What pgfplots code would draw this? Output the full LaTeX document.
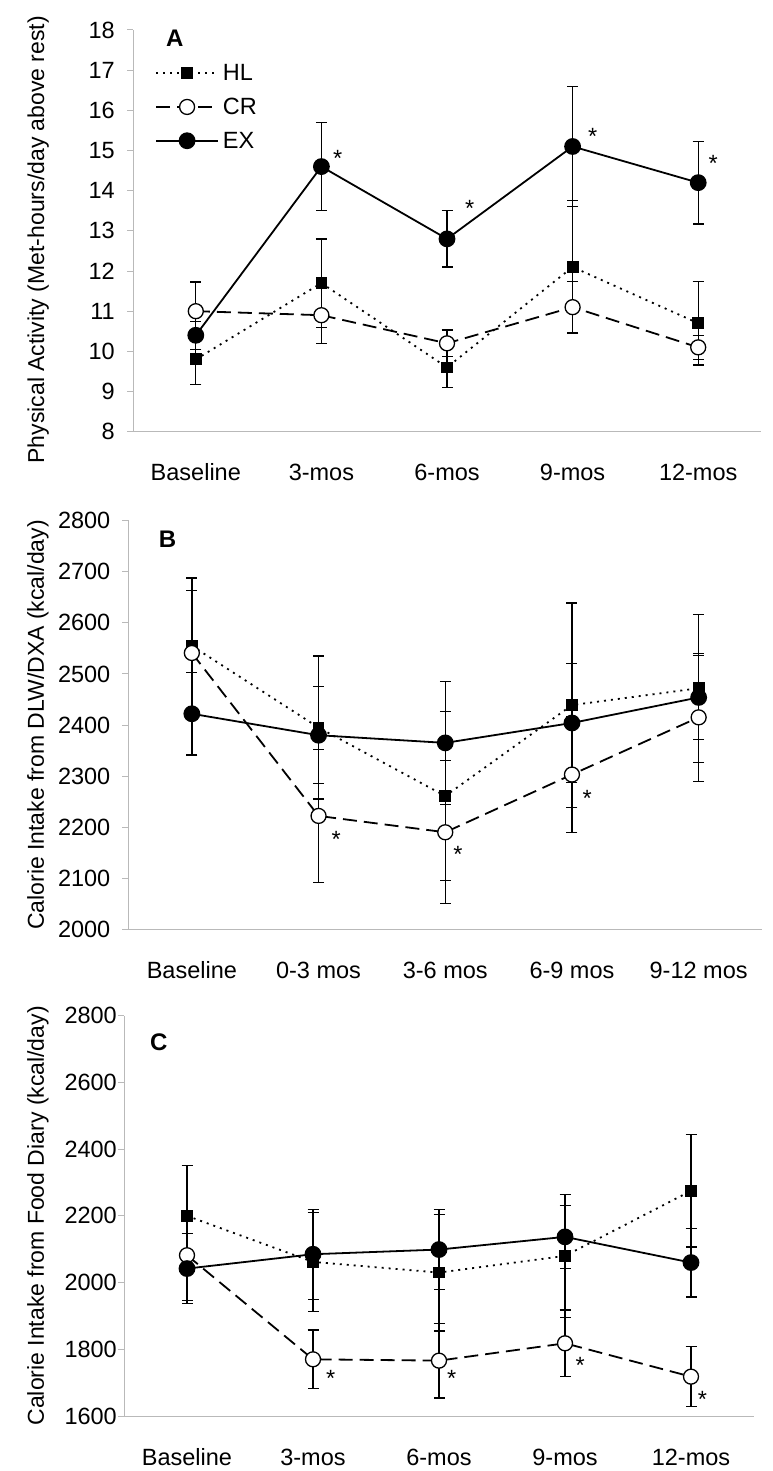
\documentclass[border=0pt]{standalone}
\usepackage{fontspec}
\setmainfont{Liberation Sans}
\usepackage{pgfplots}
\usepackage{pgfplotstable}
\pgfplotsset{compat=1.18}

\pgfplotstableread{
x  hl   hle   cr   cre   ex   exe
0  9.8  0.62  11.0 0.73  10.4 0.35
1  11.7 1.10  10.9 0.70  14.6 1.10
2  9.6  0.50  10.2 0.33  12.8 0.70
3  12.1 1.65  11.1 0.64  15.1 1.50
4  10.7 1.04  10.1 0.30  14.2 1.03
}\dataA

\pgfplotstableread{
x  hl   hle  cr   cre  ex   exe
0  2555 133  2541 122  2422 81
1  2395 140  2222 130  2380 95
2  2261 165  2190 140  2365 120
3  2439 200  2303 113  2404 117
4  2472 145  2415 125  2454 82
}\dataB

\pgfplotstableread{
x  hl   hle  cr   cre  ex   exe
0  2200 150  2082 135  2042 105
1  2062 148  1770 88   2085 135
2  2030 175  1766 112  2099 120
3  2080 185  1818 100  2137 95
4  2275 168  1718 90   2060 103
}\dataC

\newcommand{\fs}{\fontsize{23.5}{26}\selectfont}

\tikzset{sig/.style={anchor=base, yshift=-13.5pt, inner sep=0pt, font=\fs}}

\pgfplotsset{
  panel/.style={
    scale only axis, anchor=south west,
    xmin=-0.5, xmax=4.5,
    axis x line*=bottom, axis y line*=left,
    axis line style={-, gray!55, line width=1pt},
    xtick={0,1,2,3,4},
    x tick style={draw=none},
    y tick style={gray!55, line width=1pt},
    tick align=outside, major tick length=6pt,
    /pgf/number format/assume math mode=true,
    /pgf/number format/1000 sep={},
    tick label style={font=\fs},
    yticklabel style={anchor=east, inner sep=0pt, xshift=-12pt},
    xticklabel style={anchor=base, inner sep=0pt, yshift=-43pt},
    ylabel style={font=\fontsize{23}{26}\selectfont, anchor=base},
    clip=false,
    legend image code/.code={\draw[mark repeat=2,mark phase=2,##1] plot coordinates {(0pt,0pt) (31pt,0pt) (62pt,0pt)};},
  },
  errs/.style={error bars/.cd, y dir=both, y explicit,
    error bar style={solid, line width=1.3pt, black},
    error mark options={rotate=90, solid, mark size=5.5pt, line width=1.3pt, black}},
  hl/.style={black, line width=1.8pt, dash pattern=on 2pt off 5pt,
    mark=square*, mark size=5pt, mark options={solid, fill=black}},
  cr/.style={black, line width=1.8pt, dash pattern=on 14pt off 7pt,
    mark=*, mark size=7.5pt, mark options={solid, fill=white, line width=1.3pt}},
  ex/.style={black, line width=1.8pt, solid,
    mark=*, mark size=7.5pt, mark options={solid, fill=black}},
}

\begin{document}
\begin{tikzpicture}
\path[use as bounding box] (0pt,0pt) rectangle (772pt,-1471pt);

% ---------------- Panel A
\begin{axis}[panel, at={(133pt,-431.7pt)}, width=628pt, height=401.7pt,
  ymin=8, ymax=18, ytick={8,9,...,18},
  xticklabels={Baseline,3-mos,6-mos,9-mos,12-mos},
  ylabel={Physical Activity (Met-hours/day above rest)},
  ylabel style={at={(axis description cs:-0.1417,0.478)}},
  legend style={at={(axis description cs:0.035,0.925)}, anchor=north west,
    draw=none, fill=none, font=\fs, row sep=8pt, inner sep=0pt,
    nodes={inner sep=4pt}},
  legend cell align=left]
\addplot[hl, errs] table[x=x, y=hl, y error=hle] {\dataA};
\addlegendentry{HL}
\addplot[cr, errs] table[x=x, y=cr, y error=cre] {\dataA};
\addlegendentry{CR}
\addplot[ex, errs] table[x=x, y=ex, y error=exe] {\dataA};
\addlegendentry{EX}
\node[sig] at (axis cs:1.13,14.93) {*};
\node[sig] at (axis cs:2.18,13.70) {*};
\node[sig] at (axis cs:3.16,15.48) {*};
\node[sig] at (axis cs:4.12,14.82) {*};
\end{axis}
\node[anchor=base west, inner sep=0pt, font=\bfseries\fontsize{24}{24}\selectfont] at (166pt,-47pt) {A};

% ---------------- Panel B
\begin{axis}[panel, at={(128.5pt,-929.3pt)}, width=633.5pt, height=408.6pt,
  ymin=2000, ymax=2800, ytick={2000,2100,...,2800},
  xticklabels={Baseline,0-3 mos,3-6 mos,6-9 mos,9-12 mos},
  ylabel={Calorie Intake from DLW/DXA (kcal/day)},
  ylabel style={at={(axis description cs:-0.1334,0.5)}}]
\addplot[hl, errs] table[x=x, y=hl, y error=hle] {\dataB};
\addplot[cr, errs] table[x=x, y=cr, y error=cre] {\dataB};
\addplot[ex, errs] table[x=x, y=ex, y error=exe] {\dataB};
\node[sig] at (axis cs:1.14,2186) {*};
\node[sig] at (axis cs:2.10,2157) {*};
\node[sig] at (axis cs:3.12,2266) {*};
\end{axis}
\node[anchor=base west, inner sep=0pt, font=\bfseries\fontsize{24}{24}\selectfont] at (158.6pt,-547pt) {B};

% ---------------- Panel C
\begin{axis}[panel, at={(124pt,-1416pt)}, width=630pt, height=400.3pt,
  ymin=1600, ymax=2800, ytick={1600,1800,...,2800},
  yticklabel style={xshift=11pt},
  xticklabels={Baseline,3-mos,6-mos,9-mos,12-mos},
  ylabel={Calorie Intake from Food Diary (kcal/day)},
  ylabel style={at={(axis description cs:-0.127,0.5)}}]
\addplot[hl, errs] table[x=x, y=hl, y error=hle] {\dataC};
\addplot[cr, errs] table[x=x, y=cr, y error=cre] {\dataC};
\addplot[ex, errs] table[x=x, y=ex, y error=exe] {\dataC};
\node[sig] at (axis cs:1.14,1730) {*};
\node[sig] at (axis cs:2.10,1730) {*};
\node[sig] at (axis cs:3.12,1768) {*};
\node[sig] at (axis cs:4.09,1666) {*};
\end{axis}
\node[anchor=base west, inner sep=0pt, font=\bfseries\fontsize{24}{24}\selectfont] at (150pt,-1050pt) {C};
\end{tikzpicture}
\end{document}
